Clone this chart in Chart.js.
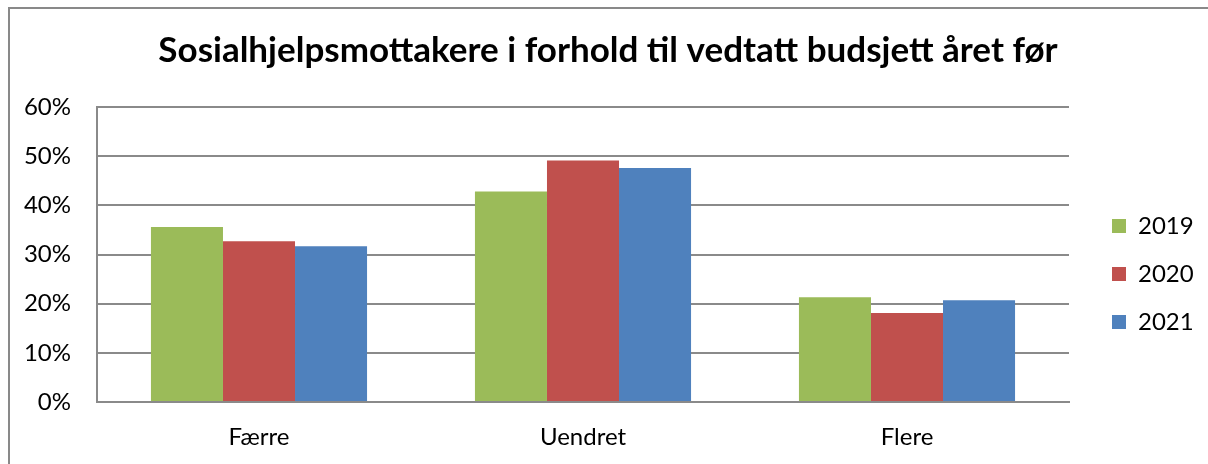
<!DOCTYPE html>
<html>
<head>
<meta charset="utf-8">
<script src="https://cdn.jsdelivr.net/npm/chart.js@4"></script>
<style>
    html, body { margin: 0; padding: 0; background: #fff; overflow: hidden; }
    #frame {
        position: absolute; left: 8px; top: 7px; width: 1300px; height: 600px;
        border: 2px solid #898989; box-sizing: border-box;
    }
    #wrap { position: absolute; left: 0; top: 0; width: 1208px; height: 464px; }
</style>
</head>
<body>
<div id="frame"></div>
<div id="wrap"><canvas id="chart"></canvas></div>
<script>
const categories = ['Færre', 'Uendret', 'Flere'];
const years = ['2019', '2020', '2021'];
const values2019 = [35.6, 42.8, 21.3];
const values2020 = [32.7, 49.1, 18.1];
const values2021 = [31.7, 47.6, 20.7];
const yTicks = [0, 10, 20, 30, 40, 50, 60];

const colors = ['#9BBB59', '#C0504D', '#4F81BD'];
const fontFamily = 'Lato, "Open Sans", sans-serif';
const gridColor = '#8a8a8a';

// move the legend to where the original has it
const legendPlace = {
    id: 'legendPlace',
    afterLayout(chart) {
        const lg = chart.legend;
        if (!lg) return;
        const pad = lg.options.labels.padding;
        lg.left = 1112 - pad;
        lg.right = 1208;
        lg.top = 214 - pad;
        lg.bottom = 464;
    }
};

const ctx = document.getElementById('chart');
new Chart(ctx, {
    type: 'bar',
    data: {
        labels: categories,
        datasets: [
            { label: years[0], data: values2019, backgroundColor: colors[0], borderWidth: 0 },
            { label: years[1], data: values2020, backgroundColor: colors[1], borderWidth: 0 },
            { label: years[2], data: values2021, backgroundColor: colors[2], borderWidth: 0 }
        ]
    },
    options: {
        responsive: true,
        maintainAspectRatio: false,
        animation: false,
        categoryPercentage: 0.667,
        barPercentage: 1,
        layout: { padding: { left: 8, top: 0, right: 0, bottom: 0 } },
        plugins: {
            title: {
                display: true,
                text: 'Sosialhjelpsmottakere i forhold til vedtatt budsjett året før',
                color: '#000',
                font: { family: fontFamily, size: 35, weight: 'bold' },
                padding: { top: 30, bottom: 35 }
            },
            legend: {
                display: true,
                position: 'right',
                align: 'start',
                maxWidth: 90,
                labels: {
                    boxWidth: 14,
                    boxHeight: 14,
                    padding: 24,
                    color: '#000',
                    font: { family: fontFamily, size: 24 }
                }
            },
            tooltip: { enabled: false }
        },
        scales: {
            x: {
                grid: { display: false, drawTicks: false },
                border: { display: true, color: gridColor, width: 2 },
                ticks: {
                    color: '#000',
                    padding: 21,
                    font: { family: fontFamily, size: 24 }
                },
                afterFit(axis) { axis.height = 62; }
            },
            y: {
                min: 0,
                max: 60,
                afterBuildTicks(axis) { axis.ticks = yTicks.map(v => ({ value: v })); },
                grid: { color: gridColor, lineWidth: 2, drawTicks: false },
                border: { display: true, color: gridColor, width: 2 },
                ticks: {
                    color: '#000',
                    padding: 26,
                    font: { family: fontFamily, size: 24 },
                    callback: v => v + '%'
                },
                afterFit(axis) { axis.width = 89; }
            },
            // empty spacer on the right so the plot ends where the original does
            spacer: {
                type: 'linear',
                position: 'right',
                display: true,
                grid: { display: false, drawTicks: false },
                border: { display: false },
                ticks: { display: false },
                afterFit(axis) { axis.width = 49; }
            }
        }
    },
    plugins: [legendPlace]
});
</script>
</body>
</html>
